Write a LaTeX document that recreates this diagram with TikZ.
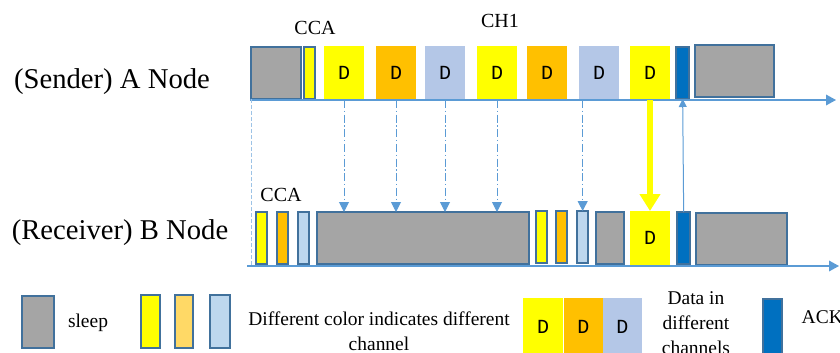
\documentclass[tikz,border=0pt]{standalone}
\usepackage{fontspec}
\setmainfont{Liberation Serif}
\newfontfamily\dfont{Liberation Mono}
\usetikzlibrary{arrows.meta, positioning}

\definecolor{sleepgray}{HTML}{A5A5A5}
\definecolor{edgeblue}{HTML}{41719C}
\definecolor{chyellow}{HTML}{FFFF00}
\definecolor{chorange}{HTML}{FFC000}
\definecolor{chblue}{HTML}{B4C7E7}
\definecolor{ccablue}{HTML}{BDD7EE}
\definecolor{ccaorange}{HTML}{FFD966}
\definecolor{ackblue}{HTML}{0070C0}
\definecolor{lineblue}{HTML}{5B9BD5}
\definecolor{dashblue}{HTML}{9DC3E6}

\begin{document}
\begin{tikzpicture}[
    x=0.75pt, y=-0.75pt,
    box/.style={rectangle, inner sep=0pt, outer sep=0pt, anchor=north west},
    sleepbox/.style={box, draw=edgeblue, line width=1.5pt, fill=sleepgray, minimum height=39pt},
    ccabox/.style={box, draw=edgeblue, line width=1.5pt, minimum width=8.5pt, minimum height=39pt},
    dbox/.style={box, minimum width=30pt, minimum height=40.5pt, font=\dfont\fontsize{15}{15}\selectfont},
    ackbox/.style={box, draw=edgeblue, line width=1.5pt, fill=ackblue, minimum width=10pt, minimum height=39pt},
    axis/.style={-{Triangle[length=7.5pt, width=8pt]}, lineblue, line width=1pt},
    sync/.style={-{Triangle[length=7.5pt, width=7.5pt]}, lineblue, line width=0.75pt, dash pattern=on 6pt off 2pt on 1pt off 2pt},
    lbl/.style={font=\fontsize{15}{18}\selectfont},
    rowlbl/.style={font=\fontsize{21.5}{24}\selectfont},
    legtext/.style={font=\fontsize{14.6}{18.75}\selectfont, align=center},
]
\useasboundingbox (0,0) rectangle (840,353);

% Sender row (top)
\node[sleepbox, minimum width=37.5pt] (sleepA1) at (251,47) {};
\node[ccabox, fill=chyellow] (ccaA) at (304,47) {};
\node[dbox, fill=chyellow] (dA1) at (324,46) {D};
\node[dbox, fill=chorange] (dA2) at (376,46) {D};
\node[dbox, fill=chblue] (dA3) at (425,46) {D};
\node[dbox, fill=chyellow] (dA4) at (477,46) {D};
\node[dbox, fill=chorange] (dA5) at (527,46) {D};
\node[dbox, fill=chblue] (dA6) at (579,46) {D};
\node[dbox, fill=chyellow] (dA7) at (630,46) {D};
\node[ackbox] (ackA) at (676,47) {};
\node[sleepbox, minimum width=59pt] (sleepA2) at (695,45) {};

\node[lbl] (ccaAlbl) at (315,28) {CCA};
\node[lbl] (ch1lbl) at (500,21) {CH1};
\node[rowlbl] (nodeA) at (112,82) {(Sender) A Node};

% Receiver row (bottom)
\node[ccabox, fill=chyellow] (ccaB1) at (256,212) {};
\node[ccabox, fill=chorange] (ccaB2) at (277,212) {};
\node[ccabox, fill=ccablue] (ccaB3) at (298,212) {};
\node[sleepbox, minimum width=159pt] (sleepB1) at (317,212) {};
\node[ccabox, fill=chyellow] (ccaB4) at (536,211) {};
\node[ccabox, fill=chorange] (ccaB5) at (556,211) {};
\node[ccabox, fill=ccablue] (ccaB6) at (577,211) {};
\node[sleepbox, minimum width=21pt] (sleepB2) at (596,212) {};
\node[dbox, fill=chyellow] (dB) at (630,211) {D};
\node[ackbox] (ackB) at (677,212) {};
\node[sleepbox, minimum width=68pt] (sleepB3) at (696,213) {};

\node[lbl] (ccaBlbl) at (281,195) {CCA};
\node[rowlbl] (nodeB) at (120,233) {(Receiver) B Node};

% Time axes
\coordinate (axisAstart) at (250,100);
\coordinate (axisAend) at (836,100);
\coordinate (axisBstart) at (247,266);
\coordinate (axisBend) at (839,266);
\draw[axis] (axisAstart) -- (axisAend);
\draw[axis] (axisBstart) -- (axisBend);
\draw[dashblue, line width=0.75pt, dash pattern=on 3pt off 1.5pt] (sleepA1.south west) -- (sleepA1.south west |- axisBstart);

% Data sent on each channel
\draw[sync] (dA1.south) -- (dA1.south |- sleepB1.north);
\draw[sync] (dA2.south) -- (dA2.south |- sleepB1.north);
\draw[sync] (dA3.south) -- (dA3.south |- sleepB1.north);
\draw[sync] (dA4.south) -- (dA4.south |- sleepB1.north);
\draw[sync] (ccaB6.north |- dA6.south) -- (ccaB6.north);
\draw[-{Triangle[length=12.75pt, width=15pt]}, chyellow, line width=5pt] (dA7.south) -- (dB.north);
\draw[-{Triangle[length=6pt, width=6pt]}, lineblue, line width=0.75pt] (ackB.north) -- (ackA.south);

% Legend
\node[sleepbox, minimum width=24pt] (legsleep) at (22,296) {};
\node[legtext] (legsleeptxt) at (88,323) {sleep};
\node[ccabox, fill=chyellow, minimum width=14pt, minimum height=39.5pt] (legcca1) at (141,295) {};
\node[ccabox, fill=ccaorange, minimum width=13.5pt, minimum height=39.5pt] (legcca2) at (175,295) {};
\node[ccabox, fill=ccablue, minimum width=15pt, minimum height=39.5pt] (legcca3) at (210,295) {};
\node[legtext] (legccatxt) at (379,331) {Different color indicates different\\channel};
\node[dbox, fill=chyellow, minimum height=44pt] (legd1) at (523,298) {D};
\node[dbox, fill=chorange, minimum width=29pt, minimum height=44pt] (legd2) at (564,298) {D};
\node[dbox, fill=chblue, minimum width=29pt, minimum height=44pt] (legd3) at (603,298) {D};
\node[legtext] (legdtxt) at (696,323) {Data in\\different\\channels};
\node[ackbox, minimum width=14.5pt, minimum height=44pt] (legack) at (763,299) {};
\node[legtext, anchor=west] (legacktxt) at (797,317) {ACK};

\end{tikzpicture}
\end{document}
